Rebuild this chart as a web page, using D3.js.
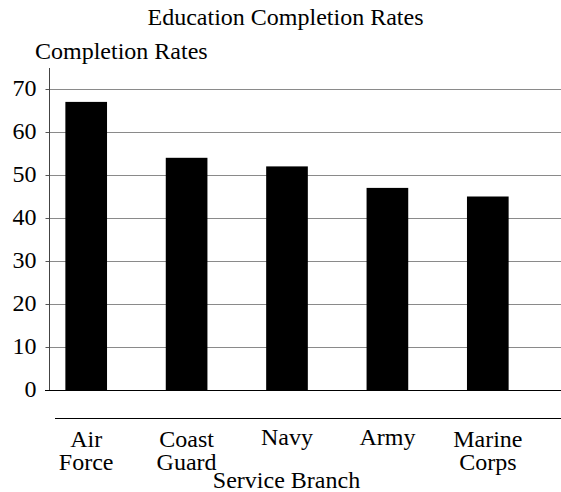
<!DOCTYPE html>
<html><head><meta charset="utf-8">
<script src="https://cdn.jsdelivr.net/npm/d3@7"></script>
<style>
svg, svg text, svg tspan { font-family: "Liberation Serif", "Times New Roman", Times, serif !important; }
</style>
</head>
<body style="margin:0;padding:0;background:#fff"><svg id="c" width="561" height="492" font-family="Liberation Serif"></svg>
<script>
const categories = ["Air Force","Coast Guard","Navy","Army","Marine Corps"];
const labelLines = [["Air","Force"],["Coast","Guard"],["Navy"],["Army"],["Marine","Corps"]];
const values = [67,54,52,47,45];
const yTicks = [0,10,20,30,40,50,60,70];
const title = "Education Completion Rates";
const yTitle = "Completion Rates";
const xTitle = "Service Branch";

const FONT = "Liberation Serif, Times New Roman, serif";
const svg = d3.select("#c");
const x = d3.scaleBand().domain(categories).range([36,538]).paddingInner(0.585).paddingOuter(0.2925);
const y = d3.scaleLinear().domain([0,70]).range([390,89]);

// gridlines
svg.append("g").selectAll("line").data(yTicks.filter(d=>d>0)).join("line")
  .attr("x1",49).attr("x2",561).attr("y1",d=>y(d)+0.5).attr("y2",d=>y(d)+0.5)
  .attr("stroke","#8a8a8a").attr("stroke-width",1);

// y axis
const yAxis = svg.append("g").attr("transform","translate(49.5,0)")
  .call(d3.axisLeft(y).tickValues(yTicks).tickSize(4).tickPadding(9));
yAxis.attr("font-family",FONT).attr("font-size",24);
yAxis.select(".domain").remove();
yAxis.selectAll(".tick line").attr("stroke","#555");
yAxis.selectAll(".tick text").attr("dy","0.27em").attr("fill","#000");
svg.append("line").attr("x1",49.5).attr("x2",49.5).attr("y1",68).attr("y2",391).attr("stroke","#444");

// bars
svg.append("g").selectAll("rect").data(values).join("rect")
  .attr("x",(d,i)=>x(categories[i])).attr("width",x.bandwidth())
  .attr("y",d=>y(d)).attr("height",d=>y(0)-y(d)).attr("fill","#000");

// zero line
svg.append("line").attr("x1",45).attr("x2",561).attr("y1",y(0)+0.5).attr("y2",y(0)+0.5).attr("stroke","#000").attr("stroke-width",1);

// x axis line
svg.append("line").attr("x1",55).attr("x2",561).attr("y1",418.5).attr("y2",418.5).attr("stroke","#000");

// category labels
const lab = svg.append("g").attr("font-family",FONT).attr("font-size",24)
  .selectAll("text").data(categories).join("text")
  .attr("text-anchor","middle")
  .attr("x",d=>x(d)+x.bandwidth()/2)
  .attr("y",(d,i)=>labelLines[i].length===1 ? 445 : 447);
lab.each(function(d,i){
  const t = d3.select(this);
  labelLines[i].forEach((l,j)=>t.append("tspan").attr("x",x(d)+x.bandwidth()/2).attr("dy",j===0?0:23).text(l));
});

// titles
const tt = (xx,yy,anchor,s)=>svg.append("text").attr("x",xx).attr("y",yy).attr("text-anchor",anchor)
  .attr("font-family",FONT).attr("font-size",24).text(s);
tt(285.5,25,"middle",title);
tt(35,59,"start",yTitle);
tt(286.5,488,"middle",xTitle);
</script></body></html>
